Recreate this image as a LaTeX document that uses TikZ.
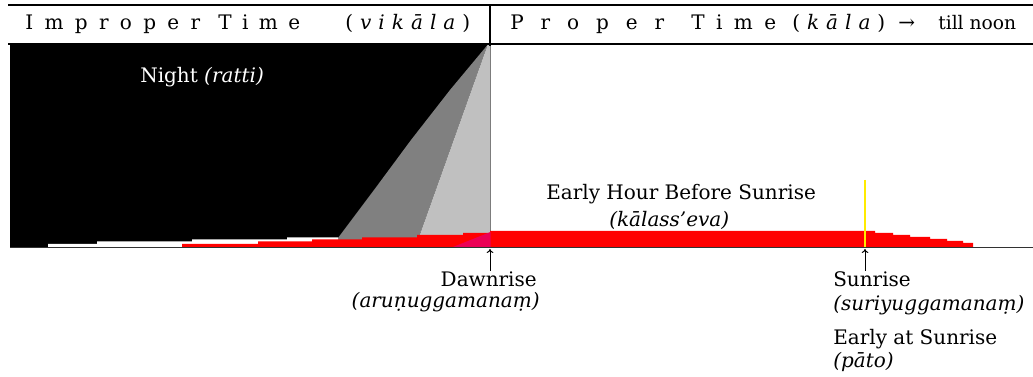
\documentclass[tikz,border=0pt]{standalone}
\usepackage{fontspec}
\setmainfont{DejaVu Serif}
\usetikzlibrary{arrows.meta}
\newlength\pxu \setlength\pxu{0.75pt}
\newcommand\sprd[2]{\makebox[#1\pxu]{#2}}
\newcommand\mainsz{\fontsize{15pt}{17pt}\selectfont}
\definecolor{dgray}{RGB}{128,128,128}
\definecolor{lgray}{RGB}{192,192,192}
\definecolor{redc}{RGB}{255,0,0}
\definecolor{pinkc}{RGB}{235,0,85}
\definecolor{yelc}{RGB}{255,235,0}
\definecolor{axisc}{RGB}{50,50,50}
\tikzset{
  txt/.style={inner sep=0pt,font=\mainsz},
  hdr/.style={inner sep=0pt,font=\mainsz,anchor=base west},
  rule/.style={line width=1.5\pxu,black},
  arr/.style={line width=1\pxu,-{To[length=3pt,width=5pt]}}
}
\begin{document}
\begin{tikzpicture}[x=0.75pt,y=-0.75pt]
\useasboundingbox[fill=white] (0,0) rectangle (1033,377);
% night block
\fill[black] (10,45) rectangle (490.5,247);
\fill[dgray] (487.5,45) -- (420,234) -- (420,247) -- (338,247) -- (338,238) -- (374,190) -- (411,140) -- (450,90) -- cycle;
\fill[lgray] (487.5,45) -- (490.5,45) -- (490.5,247) -- (420,247) -- (420,234) -- cycle;
\fill[white] (48,247) -- (48,244) -- (97,244) -- (97,241.5) -- (192,241.5) -- (192,239.5) -- (287,239.5) -- (287,237.5) -- (338,237.5) -- (338,247) -- cycle;
\fill[redc] (182,247) -- (182,244) -- (258,244) -- (258,241.5) -- (312,241.5) -- (312,239.5) -- (362,239.5) -- (362,237.5) -- (417,237.5) -- (417,235) -- (463,235) -- (463,233) -- (490,233) -- (490,231) -- (875,231) -- (875,233) -- (893,233) -- (893,235) -- (910,235) -- (910,237) -- (930,237) -- (930,239) -- (947,239) -- (947,241) -- (963,241) -- (963,243) -- (973,243) -- (973,247) -- cycle;
\fill[pinkc] (453,247) -- (490.5,232) -- (490.5,247) -- cycle;
\draw[yelc,line width=2\pxu] (865,180) -- (865,247);
\draw[axisc,line width=1.8\pxu] (10,247.5) -- (1033,247.5);
% header rules
\draw[rule] (8,5) -- (1033,5);
\draw[rule] (8,44) -- (1033,44);
\draw[rule] (490,5) -- (490,46);
% header texts
\node[hdr] (hImp) at (25,30) {\sprd{175}{I\hfill m\hfill p\hfill r\hfill o\hfill p\hfill e\hfill r}};
\node[hdr] (hTime) at (218,30) {\sprd{82}{T\hfill i\hfill m\hfill e}};
\node[hdr] (hVik) at (345,30) {\sprd{125}{(\hfill{\itshape v\hfill i\hfill k\hfill ā\hfill l\hfill a}\hfill)}};
\node[hdr] (hProp) at (510,30) {\sprd{154}{P\hfill r\hfill o\hfill p\hfill e\hfill r}};
\node[hdr] (hTime2) at (691,30) {\sprd{85}{T\hfill i\hfill m\hfill e}};
\node[hdr] (hKala) at (792,30) {\sprd{93}{(\hfill{\itshape k\hfill ā\hfill l\hfill a}\hfill)}};
\node[hdr] (hArr) at (898,30) {→};
\node[hdr,font=\fontsize{14pt}{16pt}\selectfont] (hNoon) at (938,30) {till noon};
% labels
\node[txt,anchor=base west,text=white] (night) at (140,83) {Night \textit{(ratti)}};
\node[txt,anchor=base west] (ehbs) at (546,200) {Early Hour Before Sunrise};
\node[txt,anchor=base west] (kalas) at (609,227) {\textit{(kālass'eva)}};
\node[txt,anchor=base east] (dawn) at (537,287) {Dawnrise};
\node[txt,anchor=base east] (aruna) at (540,308) {\textit{(aruṇuggamanaṃ)}};
\node[txt,anchor=base west] (sunr) at (833,287) {Sunrise};
\node[txt,anchor=base west] (suriy) at (833,311) {\textit{(suriyuggamanaṃ)}};
\node[txt,anchor=base west] (early) at (833,345) {Early at Sunrise};
\node[txt,anchor=base west] (pato) at (833,368) {\textit{(pāto)}};
% arrows
\coordinate (dawnpt) at (490,249);
\coordinate (dawntail) at (490,271);
\coordinate (sunpt) at (865,249);
\coordinate (suntail) at (865,271);
\draw[arr] (dawntail) -- (dawnpt);
\draw[arr] (suntail) -- (sunpt);
\end{tikzpicture}
\end{document}
